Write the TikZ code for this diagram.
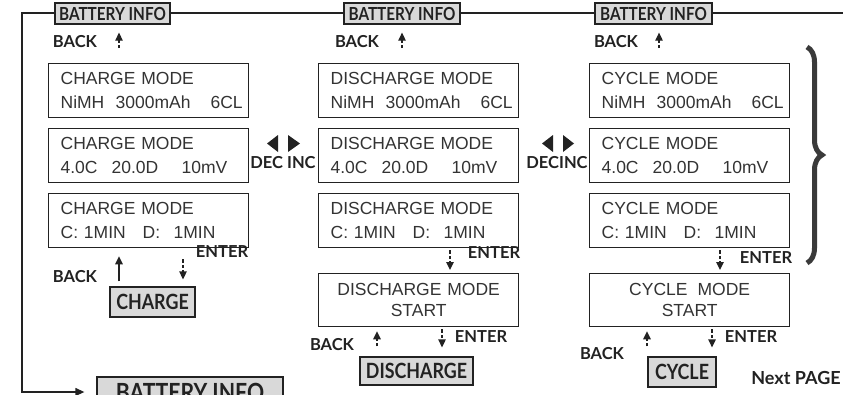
\documentclass[tikz,border=0pt]{standalone}
\usepackage{fontspec}
\setmainfont{Liberation Sans}
\newfontfamily\keyfont{Lato}
\newfontfamily\tagfont{Lato}[FakeStretch=0.85]
\usetikzlibrary{arrows.meta, positioning, decorations.pathreplacing, calc}
\definecolor{Ink}{HTML}{222222}
\definecolor{Screen}{HTML}{333333}
\definecolor{Tag}{HTML}{D9D9D9}
\definecolor{Brace}{HTML}{3A3A3A}

\begin{document}
\begin{tikzpicture}[x=1pt, y=-1pt,
  screen/.style={draw=Ink, line width=1.3pt, anchor=north west, minimum width=200pt, minimum height=54pt, text width=176pt, inner xsep=12pt, align=left, text=Screen, font=\fontsize{17.5}{24}\selectfont},
  startscreen/.style={screen, align=center, minimum height=53pt, font=\fontsize{17.5}{21}\selectfont},
  tag/.style={draw=Ink, line width=1.3pt, fill=Tag, inner sep=0pt, text=Ink, font=\tagfont\bfseries\fontsize{18}{18}\selectfont},
  bigtag/.style={tag, font=\tagfont\bfseries\fontsize{21}{21}\selectfont},
  key/.style={inner sep=0pt, text=Ink, font=\keyfont\bfseries\fontsize{16.5}{18}\selectfont},
  frame/.style={draw=Ink, line width=1.3pt},
  keyarrow/.style={-{Triangle[length=8pt, width=7.5pt]}, draw=Ink, line width=1.3pt, dash pattern=on 3.5pt off 2pt},
  backarrow/.style={keyarrow, solid}
]
\useasboundingbox (0,0) rectangle (843,394);
\clip (0,0) rectangle (843,394);

% outer loop back to the info page
\node[tag, minimum width=186pt, minimum height=30pt, font=\tagfont\bfseries\fontsize{25}{25}\selectfont] (infoend) at (190,392) {BATTERY INFO};
\coordinate (topright) at (843,13);
\coordinate (topleft) at (22,13);
\draw[frame, -{Triangle[length=9pt, width=8pt]}, shorten >=12pt] (topright) -- (topleft) |- (infoend.west);

\node[tag, minimum width=115pt, minimum height=21pt] (info1) at (112.5,13.5) {BATTERY INFO};
\node[tag, minimum width=116pt, minimum height=21pt] (info2) at (402,13.5) {BATTERY INFO};
\node[tag, minimum width=117pt, minimum height=21pt] (info3) at (653.5,13.5) {BATTERY INFO};

% charge column
\node[screen] (charge1) at (48,63) {CHARGE MODE\\\makebox[55pt][l]{NiMH}\makebox[95pt][l]{3000mAh}6CL};
\node[screen] (charge2) at (48,128) {CHARGE MODE\\\makebox[51pt][l]{4.0C}\makebox[70pt][l]{20.0D}10mV};
\node[screen] (charge3) at (48,193) {CHARGE MODE\\\makebox[82pt][l]{C: 1MIN}\makebox[31pt][l]{D:}1MIN};
\node[bigtag, minimum width=85pt, minimum height=30pt] (charge) at (152.5,302) {CHARGE};

% discharge column
\node[screen] (discharge1) at (318,63) {DISCHARGE MODE\\\makebox[55pt][l]{NiMH}\makebox[95pt][l]{3000mAh}6CL};
\node[screen] (discharge2) at (318,128) {DISCHARGE MODE\\\makebox[51pt][l]{4.0C}\makebox[70pt][l]{20.0D}10mV};
\node[screen] (discharge3) at (318,193) {DISCHARGE MODE\\\makebox[82pt][l]{C: 1MIN}\makebox[31pt][l]{D:}1MIN};
\node[startscreen] (dstart) at (318,273) {DISCHARGE MODE\\START};
\node[bigtag, minimum width=113pt, minimum height=28pt] (discharge) at (416.5,371) {DISCHARGE};

% cycle column
\node[screen] (cycle1) at (589,63) {CYCLE MODE\\\makebox[55pt][l]{NiMH}\makebox[95pt][l]{3000mAh}6CL};
\node[screen] (cycle2) at (589,128) {CYCLE MODE\\\makebox[51pt][l]{4.0C}\makebox[70pt][l]{20.0D}10mV};
\node[screen] (cycle3) at (589,193) {CYCLE MODE\\\makebox[82pt][l]{C: 1MIN}\makebox[31pt][l]{D:}1MIN};
\node[startscreen] (cstart) at (589,273) {CYCLE\hspace{10pt}MODE\\START};
\node[bigtag, minimum width=68pt, minimum height=30pt] (cycle) at (682,372) {CYCLE};

% key labels
\node[key] (back1) at (75,42) {BACK};
\node[key] (back2) at (357,42) {BACK};
\node[key] (back3) at (616,42) {BACK};
\node[key] (back4) at (75,277) {BACK};
\node[key] (back5) at (332,345) {BACK};
\node[key] (back6) at (602,354) {BACK};
\node[key] (enter1) at (222,252) {ENTER};
\node[key] (enter2) at (494,253) {ENTER};
\node[key] (enter3) at (481,337) {ENTER};
\node[key] (enter4) at (766,258) {ENTER};
\node[key] (enter5) at (751,337) {ENTER};
\node[key] (decinc1) at (283,163) {DEC INC};
\node[key] (decinc2) at (557,163) {DECINC};
\node[key, font=\keyfont\bfseries\fontsize{18}{20}\selectfont] (nextpage) at (796,378) {Next PAGE};

% dec / inc keys
\fill[Ink] (278,135) -- (267,143.5) -- (278,152) -- cycle;
\fill[Ink] (288,135) -- (300,143.5) -- (288,152) -- cycle;
\fill[Ink] (553,135) -- (542,143.5) -- (553,152) -- cycle;
\fill[Ink] (563,135) -- (574,143.5) -- (563,152) -- cycle;

% arrow columns
\coordinate (up1) at (119,0);
\coordinate (up2) at (402,0);
\coordinate (up3) at (659,0);
\coordinate (down1) at (183,0);
\coordinate (down2) at (450,0);
\coordinate (down3) at (442,0);
\coordinate (down4) at (720,0);
\coordinate (down5) at (712,0);
\coordinate (up4) at (377,0);
\coordinate (up5) at (647,0);

\draw[keyarrow, shorten <=15pt, shorten >=8pt] (charge1.north -| up1) -- (info1.south -| up1);
\draw[keyarrow, shorten <=15pt, shorten >=8pt] (discharge1.north -| up2) -- (info2.south -| up2);
\draw[keyarrow, shorten <=15pt, shorten >=8pt] (cycle1.north -| up3) -- (info3.south -| up3);

\draw[backarrow, shorten <=5pt, shorten >=8pt] (charge.north -| up1) -- (charge3.south -| up1);
\draw[keyarrow, shorten <=11pt, shorten >=7pt] (charge3.south -| down1) -- (charge.north -| down1);

\draw[keyarrow, shorten <=2pt, shorten >=3pt] (discharge3.south -| down2) -- (dstart.north -| down2);
\draw[keyarrow, shorten <=10pt, shorten >=4pt] (discharge.north -| up4) -- (dstart.south -| up4);
\draw[keyarrow, shorten <=2pt, shorten >=9pt] (dstart.south -| down3) -- (discharge.north -| down3);

\draw[keyarrow, shorten <=2pt, shorten >=3pt] (cycle3.south -| down4) -- (cstart.north -| down4);
\draw[keyarrow, shorten <=10pt, shorten >=4pt] (cycle.north -| up5) -- (cstart.south -| up5);
\draw[keyarrow, shorten <=2pt, shorten >=9pt] (cstart.south -| down5) -- (cycle.north -| down5);

% brace over the cycle screens
\draw[Brace, line width=5pt, decorate, decoration={brace, amplitude=15pt}] (807,47) -- (807,263);
\end{tikzpicture}
\end{document}
